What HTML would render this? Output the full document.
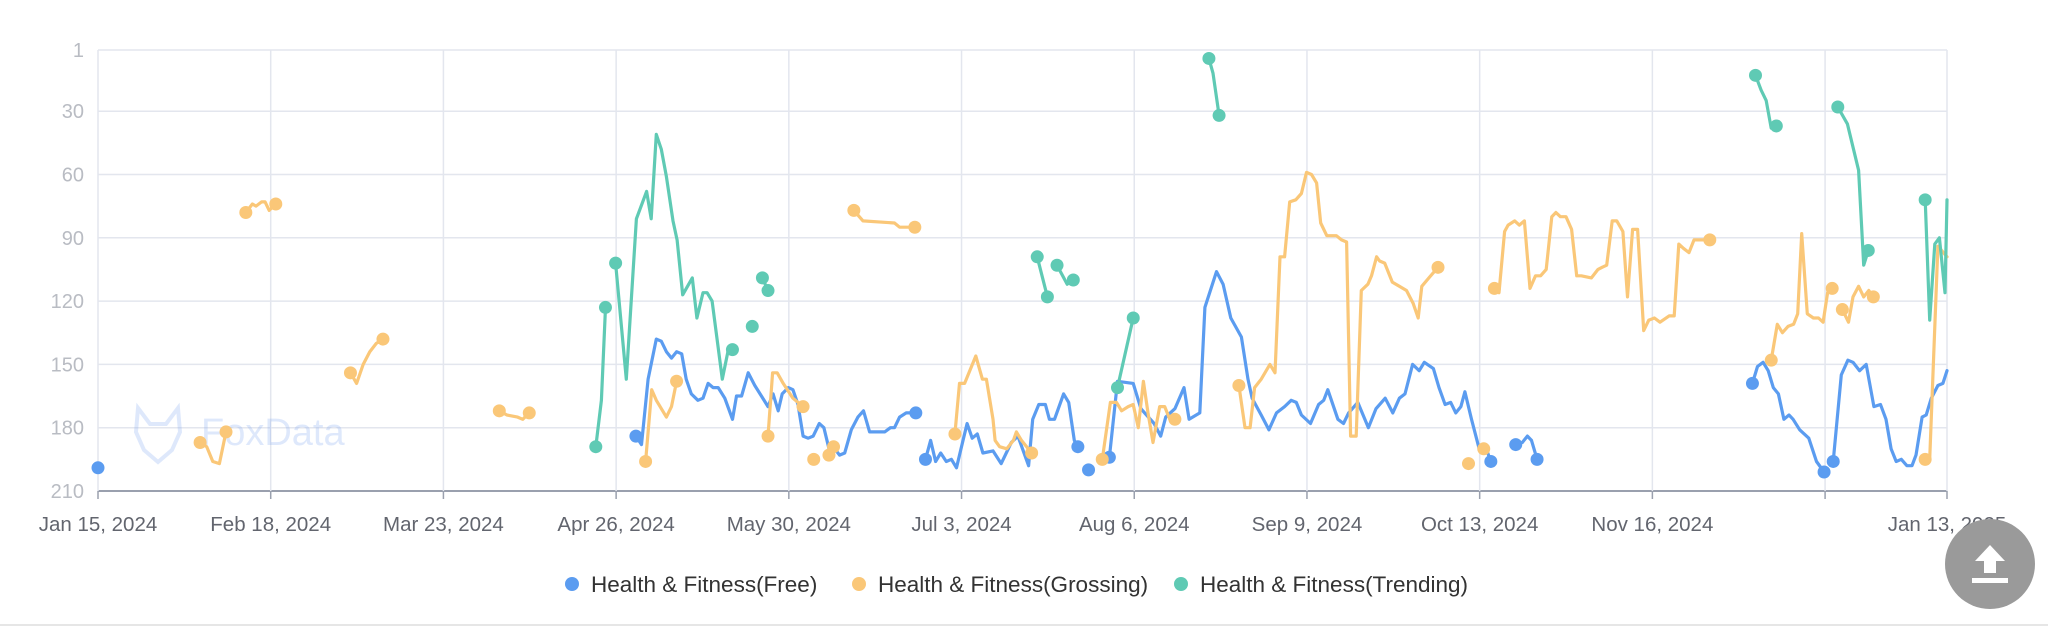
<!DOCTYPE html>
<html><head><meta charset="utf-8"><style>
html,body{margin:0;padding:0;background:#fff;}
body{width:2048px;height:628px;overflow:hidden;position:relative;font-family:"Liberation Sans",sans-serif;}
svg{position:absolute;left:0;top:0;}
</style></head><body>
<svg id="chart" width="2048" height="628" viewBox="0 0 2048 628"></svg>
<script>
const xTickDays = [0,34,68,102,136,170,204,238,272,306,340,364];
const xTickLabels = ["Jan 15, 2024","Feb 18, 2024","Mar 23, 2024","Apr 26, 2024","May 30, 2024","Jul 3, 2024","Aug 6, 2024","Sep 9, 2024","Oct 13, 2024","Nov 16, 2024","","Jan 13, 2025"];
const yTicks = [1,30,60,90,120,150,180,210];
const seriesNames = ["Health & Fitness(Free)","Health & Fitness(Grossing)","Health & Fitness(Trending)"];

// Free (blue): days and ranks, null = gap
const freeDays = [0,null,
105.9,107,108.3,109.9,110.9,111.9,112.9,113.9,114.9,115.8,116.8,118.1,119.1,120.1,121.1,122.1,123.4,124.9,125.7,126.7,128,129.3,130.6,131.9,132.9,133.9,134.7,135.9,136.8,137.8,138.8,139.8,140.8,142,142.9,144,145,146,147,148.3,149.6,150.7,151.9,154.9,156,156.8,157.8,159.1,161,null,
162.9,163.9,164.9,165.9,167,168,169,170,171.1,172.1,173.1,174.2,176.2,177.8,179.8,181.1,183.2,184,185.2,186.5,187.3,188.3,190.1,191.1,192.2,192.9,null,
195,null,
199.1,200.7,203.8,205.3,207.9,209.2,210.2,212,213.8,214.8,216.9,217.9,220.2,221.5,223,225.1,226.4,227.2,229,230.5,232,233.6,234.9,235.9,236.9,238.7,240.3,241.3,242.1,244.1,245.2,246.2,248,250.1,251.6,253.4,254.9,256.2,257.3,258.8,260.1,261.1,262.9,264,265.2,266.3,267.3,268.3,269.1,270.4,271.9,273,274.2,null,
279.1,280.4,281.4,282.2,283.3,null,
325.7,326.7,327.8,328.8,329.8,330.8,331.9,332.9,333.7,335,336.8,338.3,339.8,null,
341.6,343.2,344.5,345.5,346.8,348.1,349.6,350.9,352,353,354,355,356.1,357.1,357.9,359.1,359.9,360.9,362.2,363.2,364];
const freeRanks = [199,null,
184,188,157,138,139,144,147,144,145,157,164,167,166,159,161,161,166,176,165,165,154,160,165,170,164,172,164,161,162,169,184,185,184,178,180,191,190,193,192,181,175,172,182,182,180,180,175,173,173,null,
195,186,196,192,196,195,199,189,178,185,183,192,191,197,187,184,198,176,169,169,176,176,164,168,186,189,null,
200,null,
194,158,159,171,178,184,175,171,161,176,173,123,106,112,128,137,157,166,174,181,173,170,167,168,174,178,169,167,162,176,178,173,168,180,171,166,173,166,164,150,153,149,152,161,169,168,173,170,163,176,190,188,196,null,
188,187,184,186,195,null,
159,151,149,153,161,164,176,174,176,181,185,196,201,null,
196,155,148,149,153,150,170,169,176,190,196,195,198,198,193,175,174,166,160,159,153];

// Grossing (orange)
const grossDays = [20.1,21.4,22.6,23.9,25.2,null,
29.1,30.4,31.1,32.2,32.9,33.7,35,null,
49.7,50.9,52.2,53.5,54.8,56.1,null,
79,80.5,82.6,83.6,84.9,null,
107.8,109,109.9,111.9,112.9,113.9,null,
131.9,132.8,133.7,134.9,136.8,138.8,null,
140.9,null,
143.9,144.8,null,
148.8,150.6,156.8,157.8,160.8,null,
168.7,169.6,170.6,172.8,174.1,174.9,176.2,176.6,177.5,178.9,180.2,180.8,181.8,183.8,null,
197.7,199.3,200.5,201.5,202.8,203.8,204.8,205.8,206.7,207.7,209,210,211,212,null,
224.6,225.8,226.8,227.7,229,230.7,231.7,232.7,233.6,234.6,235.8,236.9,237.9,238.9,239.9,240.7,241.9,243.8,244.8,245.8,246.6,247.7,248.7,250,250.7,251.7,252.3,253.3,254.8,257.6,258.9,259.9,260.6,262,263.8,null,
269.8,null,
272.8,null,
274.9,275.8,276.9,277.6,278.9,279.8,280.8,281.9,283,284,285.1,286.2,287,287.9,289,290.1,291.1,292,294,295.3,296.1,297,298.1,299,300.2,301.1,302.1,303.1,304.3,305.3,306.4,307.5,309.3,310.3,311.2,312.1,313.2,314.2,315.6,317.3,null,
329.4,330.6,331.6,332.7,333.8,334.6,335.4,336.5,337.7,338.7,339.6,340.5,341.4,null,
343.4,344.6,345.5,346.6,347.6,348.6,349.5,null,
359.7,360.6,362.2,363.3,364];
const grossRanks = [187,189,196,197,182,null,
78,74,75,73,73,77,74,null,
154,159,150,144,140,138,null,
172,174,175,176,173,null,
196,162,167,175,170,158,null,
184,154,154,159,166,170,null,
195,null,
193,189,null,
77,82,83,85,85,null,
183,159,159,146,157,157,176,186,189,190,186,182,186,192,null,
195,168,168,172,170,169,180,158,173,187,170,170,176,176,null,
160,180,180,161,157,150,154,99,99,73,72,69,59,60,64,83,89,89,91,92,184,184,115,112,108,99,101,102,111,115,121,128,113,109,104,null,
197,null,
190,null,
114,116,87,84,82,84,82,114,108,108,105,80,78,80,80,86,108,108,109,105,104,103,82,82,87,118,86,86,134,129,128,130,127,127,93,95,97,91,91,91,null,
148,131,135,132,131,126,88,126,128,128,130,116,114,null,
124,130,118,113,118,115,118,null,
195,195,94,97,99];

// Trending (teal)
const trendDays = [98,99.1,99.9,null,
101.9,104,106,108,108.9,109.9,110.9,111.9,113.2,114,115.1,117,117.9,119.1,119.9,120.9,122.9,124,124.9,null,
128.8,null,
130.8,131.9,null,
184.9,186.9,null,
188.8,190.8,192,null,
200.7,203.8,null,
218.7,219.5,220.7,null,
326.3,327.4,328.4,329.4,330.4,null,
342.5,344.4,345.5,346.6,347.6,348.5,null,
359.7,360.6,361.6,362.5,363.6,364];
const trendRanks = [189,167,123,null,
102,157,81,68,81,41,48,61,82,91,117,109,128,116,116,120,157,144,143,null,
132,null,
109,115,null,
99,118,null,
103,112,110,null,
161,128,null,
5,12,32,null,
13,20,25,38,37,null,
28,36,47,58,103,96,null,
72,129,93,90,116,72];

const NS="http://www.w3.org/2000/svg";
const svg=document.getElementById('chart');
const X0=98,X1=1947,Y0=50,Y1=491,D0=0,D1=364,R0=1,R1=210;
function xScale(d){return X0+(Math.min(d,D1)-D0)/(D1-D0)*(X1-X0);}
function yScale(r){return Y0+(r-R0)/(R1-R0)*(Y1-Y0);}
function mk(tag,attrs){const e=document.createElementNS(NS,tag);for(const k in attrs)e.setAttribute(k,attrs[k]);svg.appendChild(e);return e;}

yTicks.forEach(v=>{
  const y=yScale(v);
  const g=mk('line',{x1:X0,x2:X1,y1:y,y2:y,stroke:v===210?'#9aa0ae':'#e3e6ee','stroke-width':v===210?2:1.5});
  
  
  const t=mk('text',{x:84,y:y+7,'text-anchor':'end','font-size':20,fill:'#b9bcc3','font-family':'Liberation Sans, sans-serif'});
  t.textContent=v;
  
  
});
xTickDays.forEach((d,i)=>{
  const x=xScale(d);
  const g=mk('line',{x1:x,x2:x,y1:Y0,y2:Y1,stroke:'#e3e6ee','stroke-width':1.5});
  
  
  const tk=mk('line',{x1:x,x2:x,y1:Y1,y2:Y1+8,stroke:'#9aa0ae','stroke-width':1.5});
  
  
  if(xTickLabels[i]){
    const t=mk('text',{x:x,y:531,'text-anchor':'middle','font-size':20.5,fill:'#62656e','font-family':'Liberation Sans, sans-serif'});
    t.textContent=xTickLabels[i];
    
    
  }
});

const wm=mk('g',{opacity:0.22});


const fox=document.createElementNS(NS,'path');
fox.setAttribute('d','M138 408 L150 424 L166 424 L178 408 L180 432 L172 450 L158 462 L144 450 L136 432 Z');
fox.setAttribute('fill','none');fox.setAttribute('stroke','#6f9cf0');fox.setAttribute('stroke-width','4');
wm.appendChild(fox);
const wt=document.createElementNS(NS,'text');
wt.setAttribute('x','201');wt.setAttribute('y','445');wt.setAttribute('font-size','38');wt.setAttribute('fill','#6f9cf0');wt.setAttribute('font-family','Liberation Sans, sans-serif');
wt.textContent='FoxData';
wm.appendChild(wt);

const colors=['#5b9cf0','#fac778','#5fcab4'];
const allDays=[freeDays,grossDays,trendDays];
const allRanks=[freeRanks,grossRanks,trendRanks];
const keys=['free','grossing','trending'];
allDays.forEach((days,si)=>{
  const ranks=allRanks[si];
  let seg=[];
  const segs=[];
  for(let i=0;i<=days.length;i++){
    if(i===days.length||days[i]===null||ranks[i]===null){if(seg.length)segs.push(seg);seg=[];}
    else seg.push([xScale(days[i]),yScale(ranks[i]),days[i]]);
  }
  segs.forEach(s=>{
    if(s.length>1){
      const p=mk('polyline',{points:s.map(q=>q[0].toFixed(1)+','+q[1].toFixed(1)).join(' '),fill:'none',stroke:colors[si],'stroke-width':3.2,'stroke-linejoin':'round','stroke-linecap':'round'});
      
      
    }
    const ends=s.length>1?[s[0],s[s.length-1]]:[s[0]];
    ends.forEach(q=>{
      if(q[2]>=D1) return;
      const c=mk('circle',{cx:q[0],cy:q[1],r:6.5,fill:colors[si]});
      
      
    });
  });
});

const legendX=[572,859,1181];
seriesNames.forEach((n,i)=>{
  const c=mk('circle',{cx:legendX[i],cy:584,r:7,fill:colors[i]});
  
  
  const t=mk('text',{x:legendX[i]+19,y:592,'font-size':22.5,fill:'#333','font-family':'Liberation Sans, sans-serif'});
  t.textContent=n;
  
  
});

const bl=mk('line',{x1:0,x2:2048,y1:625,y2:625,stroke:'#e6e6e6','stroke-width':2});



const btn=mk('g',{});


const bc=document.createElementNS(NS,'circle');
bc.setAttribute('cx','1990');bc.setAttribute('cy','564');bc.setAttribute('r','45');bc.setAttribute('fill','#9a9a9a');
btn.appendChild(bc);
const ar=document.createElementNS(NS,'path');
ar.setAttribute('d','M1990 545 L2005 561 L1996 561 L1996 573 L1984 573 L1984 561 L1975 561 Z M1972 578 L2008 578 L2008 583 L1972 583 Z');
ar.setAttribute('fill','#fff');
btn.appendChild(ar);
</script>
</body></html>
